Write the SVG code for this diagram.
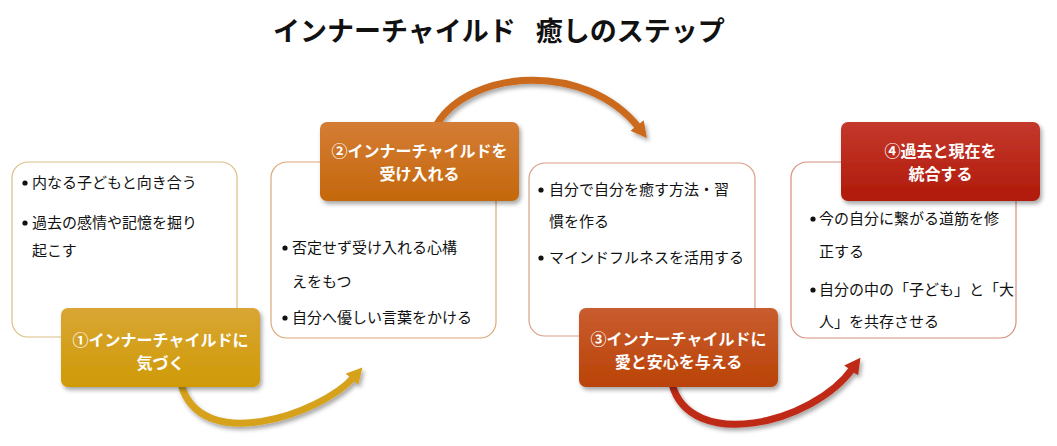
<svg xmlns="http://www.w3.org/2000/svg" width="1057" height="446" viewBox="0 0 1057 446">
<style>
.title{font-family:"Noto Sans CJK JP","Noto Sans",sans-serif;font-weight:bold;font-size:27px;fill:#111;}
.body{font-family:"Noto Sans CJK JP","Noto Sans",sans-serif;font-size:15px;fill:#111;}
.lbl{font-family:"Noto Sans CJK JP","Noto Sans",sans-serif;font-weight:bold;font-size:16px;fill:#fff;text-anchor:middle;}
.box{fill:#fff;stroke-width:1.2;}
.arrow{fill:none;stroke-width:7;stroke-linecap:butt;}
</style>
<defs>
<filter id="sh" x="-10%" y="-10%" width="125%" height="135%">
<feDropShadow dx="2" dy="3" stdDeviation="2" flood-color="#000" flood-opacity="0.35"/>
</filter>
<linearGradient id="g1" x1="0" y1="0" x2="0" y2="1"><stop offset="0" stop-color="#d9a635"/><stop offset="1" stop-color="#cf9a05"/></linearGradient>
<linearGradient id="g2" x1="0" y1="0" x2="0" y2="1"><stop offset="0" stop-color="#d47c35"/><stop offset="1" stop-color="#c4680c"/></linearGradient>
<linearGradient id="g3" x1="0" y1="0" x2="0" y2="1"><stop offset="0" stop-color="#c95c30"/><stop offset="1" stop-color="#ba4306"/></linearGradient>
<linearGradient id="g4" x1="0" y1="0" x2="0" y2="1"><stop offset="0" stop-color="#c4382c"/><stop offset="1" stop-color="#b01a0a"/></linearGradient>
<marker id="h1" viewBox="0 0 16 16" markerUnits="userSpaceOnUse" markerWidth="17" markerHeight="17" refX="3" refY="8" orient="auto"><path d="M0,0 L15,8 L0,16 z" fill="#d6a21c"/></marker>
<marker id="h2" viewBox="0 0 16 16" markerUnits="userSpaceOnUse" markerWidth="17" markerHeight="17" refX="3" refY="8" orient="auto"><path d="M0,0 L15,8 L0,16 z" fill="#cb6a1c"/></marker>
<marker id="h3" viewBox="0 0 16 16" markerUnits="userSpaceOnUse" markerWidth="17" markerHeight="17" refX="3" refY="8" orient="auto"><path d="M0,0 L15,8 L0,16 z" fill="#be2a18"/></marker>
</defs>
<rect width="1057" height="446" fill="#fff"/>
<text class="title" x="273" y="41">インナーチャイルド<tspan dx="20">癒しのステップ</tspan></text>

<g id="connectors" filter="url(#sh)">
<path class="arrow" d="M181,384 C200,455 320,415 354,377" stroke="#d6a21c" marker-end="url(#h1)"/>
<path class="arrow" d="M437,124 C470,70 585,60 639,128" stroke="#cb6a1c" marker-end="url(#h2)"/>
<path class="arrow" d="M672,384 C690,452 812,425 853,368" stroke="#be2a18" marker-end="url(#h3)"/>
</g>

<g id="step1">
<rect class="box" x="12" y="162" width="225" height="175" rx="16" stroke="#dcbf85"/>
<circle cx="25" cy="183" r="2.6" fill="#111"/>
<text class="body" x="32" y="188">内なる子どもと向き合う</text>
<circle cx="25" cy="223" r="2.6" fill="#111"/>
<text class="body" x="32" y="228">過去の感情や記憶を掘り<tspan x="32" dy="28">起こす</tspan></text>
<rect x="61" y="308" width="199" height="79" rx="7" fill="url(#g1)" filter="url(#sh)"/>
<text class="lbl" x="160.5" y="346">①インナーチャイルドに<tspan x="160.5" dy="23">気づく</tspan></text>
</g>

<g id="step2">
<rect class="box" x="271" y="162" width="225" height="176" rx="16" stroke="#daa877"/>
<circle cx="285" cy="248" r="2.6" fill="#111"/>
<text class="body" x="292" y="253">否定せず受け入れる心構<tspan x="292" dy="34">えをもつ</tspan></text>
<circle cx="285" cy="318" r="2.6" fill="#111"/>
<text class="body" x="292" y="323">自分へ優しい言葉をかける</text>
<rect x="320" y="122" width="199" height="79" rx="7" fill="url(#g2)" filter="url(#sh)"/>
<text class="lbl" x="419.5" y="157">②インナーチャイルドを<tspan x="419.5" dy="23">受け入れる</tspan></text>
</g>

<g id="step3">
<rect class="box" x="529" y="163" width="226" height="173" rx="16" stroke="#d9a086"/>
<circle cx="541" cy="190" r="2.6" fill="#111"/>
<text class="body" x="549" y="195">自分で自分を癒す方法・習<tspan x="549" dy="32">慣を作る</tspan></text>
<circle cx="541" cy="258" r="2.6" fill="#111"/>
<text class="body" x="549" y="263">マインドフルネスを活用する</text>
<rect x="579" y="308" width="199" height="79" rx="7" fill="url(#g3)" filter="url(#sh)"/>
<text class="lbl" x="678.5" y="345">③インナーチャイルドに<tspan x="678.5" dy="23">愛と安心を与える</tspan></text>
</g>

<g id="step4">
<rect class="box" x="791" y="162" width="225" height="176" rx="16" stroke="#d6907e"/>
<circle cx="813" cy="219" r="2.6" fill="#111"/>
<text class="body" x="819" y="224">今の自分に繋がる道筋を修<tspan x="819" dy="33">正する</tspan></text>
<circle cx="813" cy="290" r="2.6" fill="#111"/>
<text class="body" x="819" y="295">自分の中の「子ども」と「大<tspan x="819" dy="32">人」を共存させる</tspan></text>
<rect x="841" y="122" width="199" height="79" rx="7" fill="url(#g4)" filter="url(#sh)"/>
<text class="lbl" x="940.5" y="157">④過去と現在を<tspan x="940.5" dy="23">統合する</tspan></text>
</g>
</svg>
